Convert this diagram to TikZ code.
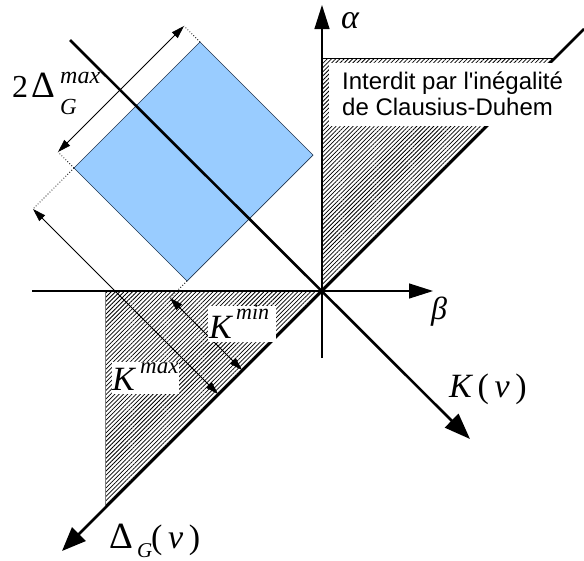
\documentclass[tikz,border=0pt]{standalone}
\usepackage{fontspec}
\setmainfont{Liberation Serif}
\newfontfamily\sansf{Liberation Sans}
\usetikzlibrary{arrows.meta,patterns.meta}
\definecolor{sqblue}{HTML}{99CCFF}
\definecolor{sqedge}{HTML}{1F3550}
\begin{document}
\begin{tikzpicture}[x=1pt,y=-1pt,
  thinax/.style={line width=1.2pt},
  thickax/.style={line width=2.6pt},
  bigtip/.style={-{Triangle[length=24pt,width=15pt]}},
  dimline/.style={line width=0.8pt,{Triangle[length=13pt,width=8pt]}-{Triangle[length=13pt,width=8pt]}},
  extline/.style={dotted,line width=0.8pt},
  hatch/.style={pattern={Lines[angle=45,distance=3pt,line width=0.75pt]}},
  lbl/.style={inner sep=0pt,anchor=base west},
  whitebox/.style={fill=white,draw=none}]
\useasboundingbox (0,0) rectangle (584,560);
% key points
\coordinate (O) at (322,291);
\coordinate (Atop) at (322,5);
\coordinate (Abot) at (322,358);
\coordinate (Bl) at (32,291);
\coordinate (Br) at (433,291);
\coordinate (Ks) at (70,40);
\coordinate (Ke) at (470,439);
\coordinate (Ds) at (584,29);
\coordinate (De) at (62,551);
\coordinate (H1) at (322,58);
\coordinate (H2) at (555,58);
\coordinate (L1) at (105,291);
\coordinate (L2) at (105,507);
% square
\coordinate (T) at (200,42);
\coordinate (L) at (74,168);
\coordinate (R) at (313,155);
\coordinate (B) at (187,281);
% dimension points
\coordinate (d1) at (58,152);
\coordinate (d2) at (184,26);
\coordinate (m1) at (33,209);
\coordinate (m2) at (218,394);
\coordinate (n1) at (170,298);
\coordinate (n2) at (242,370);
% hatched regions
\fill[hatch] (H1) -- (H2) -- (O) -- cycle;
\draw[line width=0.8pt] (H1) -- (H2);
\fill[hatch] (L1) -- (O) -- (L2) -- cycle;
\draw[line width=1pt,gray] (L1) -- (L2);
% square
\filldraw[fill=sqblue,draw=sqedge,line width=0.7pt] (T) -- (R) -- (B) -- (L) -- cycle;
% axes
\draw[thinax,bigtip] (Abot) -- (Atop);
\draw[thinax,bigtip] (Bl) -- (Br);
\draw[thickax,-{Triangle[length=26pt,width=19pt]}] (Ks) -- (Ke);
\draw[thickax,-{Triangle[length=24pt,width=19pt]}] (Ds) -- (De);
% dimensions
\draw[extline] (T) -- (d2);
\draw[extline] (L) -- (d1);
\draw[dimline] (d1) -- (d2);
\draw[extline] (L) -- (m1);
\draw[dimline] (m1) -- (m2);
\draw[extline] (B) -- (n1);
\draw[dimline] (n1) -- (n2);
% white boxes
\fill[whitebox] (329,63) rectangle (560,126);
\fill[whitebox] (208,306) rectangle (276,342);
\fill[whitebox] (112,362) rectangle (179,394);
% texts
\node[lbl] (t1) at (342,89) {\sansf\fontsize{24}{24}\selectfont Interdit par l'inégalité};
\node[lbl] (t2) at (342,115) {\sansf\fontsize{24}{24}\selectfont de Clausius-Duhem};
\node[lbl] (alpha) at (341,28) {\fontsize{34}{34}\selectfont\itshape α};
\node[lbl] (beta) at (431,319) {\fontsize{32}{32}\selectfont\itshape β};
\node[lbl] (two) at (12,97) {\fontsize{32}{32}\selectfont 2};
\node[lbl] (dl) at (31,97) {\fontsize{37}{37}\selectfont Δ};
\node[lbl] (mx) at (60,83) {\fontsize{24}{24}\selectfont\itshape max};
\node[lbl] (g1) at (60,114) {\fontsize{23}{23}\selectfont\itshape G};
\node[lbl] (kmin) at (209,338) {\fontsize{34}{34}\selectfont\itshape K};
\node[lbl] (kminx) at (236,319) {\fontsize{22}{22}\selectfont\itshape min};
\node[lbl] (kmax) at (112,390) {\fontsize{34}{34}\selectfont\itshape K};
\node[lbl] (kmaxx) at (140,373) {\fontsize{23}{23}\selectfont\itshape max};
\node[lbl] (kv) at (449,397) {\fontsize{34}{34}\selectfont\itshape K\,\upshape(\,\itshape ν\upshape\,)};
\node[lbl] (dg) at (109,548) {\fontsize{37}{37}\selectfont Δ};
\node[lbl] (dgg) at (137,557) {\fontsize{21}{21}\selectfont\itshape G};
\node[lbl] (dgv) at (151,548) {\fontsize{34}{34}\selectfont(\itshape\,ν\upshape\,)};
\end{tikzpicture}
\end{document}
